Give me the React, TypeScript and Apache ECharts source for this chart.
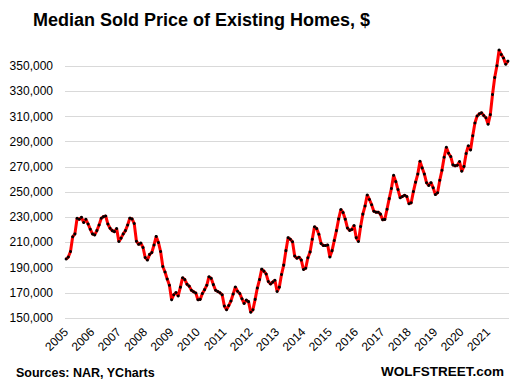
import { useEffect, useRef } from "react";
import * as echarts from "echarts";

const TITLE = "Median Sold Price of Existing Homes, $";
const SOURCE = "Sources: NAR, YCharts";
const BRAND = "WOLFSTREET.com";

const years = [2005, 2006, 2007, 2008, 2009, 2010, 2011, 2012, 2013, 2014, 2015, 2016, 2017, 2018, 2019, 2020, 2021];

// Monthly median sold price, $ (Jan..Dec)
const p2005 = [196800, 198400, 202800, 214500, 216800, 229200, 228400, 230000, 225800, 228400, 224700, 220500];
const p2006 = [216800, 216000, 219400, 223900, 229200, 230500, 231000, 224700, 221300, 219400, 218600, 221000];
const p2007 = [210700, 213400, 216800, 219400, 223900, 229300, 228700, 225000, 211000, 208500, 209500, 206000];
const p2008 = [198000, 196000, 200500, 202000, 208000, 214800, 210000, 202800, 190900, 186500, 180900, 176000];
const p2009 = [164500, 168500, 170300, 167500, 174500, 182000, 180500, 176800, 175300, 172000, 170800, 169800];
const p2010 = [164500, 164800, 169500, 172500, 176000, 182800, 181500, 176500, 172000, 171000, 170000, 168500];
const p2011 = [159500, 156500, 159900, 163500, 169000, 174600, 171200, 169500, 165300, 161500, 164200, 163000];
const p2012 = [154600, 156500, 164800, 173800, 180500, 188800, 187200, 185000, 179000, 177000, 178500, 180000];
const p2013 = [171000, 174500, 184500, 192000, 203500, 213800, 212500, 210500, 199200, 197500, 198300, 196000];
const p2014 = [188500, 189500, 197800, 202500, 212500, 222500, 221000, 216500, 209200, 207600, 207500, 208000];
const p2015 = [198500, 203500, 211500, 219400, 228700, 236200, 233800, 228500, 221500, 219600, 220300, 223500];
const p2016 = [213800, 210800, 222700, 232500, 238900, 247700, 244100, 240000, 234800, 234000, 234000, 232500];
const p2017 = [228100, 228300, 236400, 244800, 252800, 263300, 258300, 252000, 245500, 246500, 247500, 246500];
const p2018 = [240800, 241500, 250400, 257900, 264300, 274500, 269200, 264300, 257400, 255300, 257500, 253500];
const p2019 = [248000, 249500, 259400, 267300, 277700, 285600, 280800, 278200, 271600, 270900, 271300, 274300];
const p2020 = [266500, 270400, 280700, 286800, 283500, 294800, 304900, 310400, 312100, 313000, 310800, 309000];
const p2021 = [303900, 311500, 327500, 341000, 350300, 362800, 359200, 356500, 351500, 354000];

const yearly = [p2005, p2006, p2007, p2008, p2009, p2010, p2011, p2012, p2013, p2014, p2015, p2016, p2017, p2018, p2019, p2020, p2021];

const Y_MIN = 150000;
const Y_MAX = 370000;
const Y_STEP = 20000;

const FONT = '"Liberation Sans", Arial, sans-serif';

export default function App() {
  const ref = useRef<HTMLDivElement>(null);

  useEffect(() => {
    if (!ref.current) return;
    const chart = echarts.init(ref.current, null, { renderer: "svg" });

    const categories: string[] = [];
    const values: number[] = [];
    yearly.forEach((arr, yi) => {
      arr.forEach((v, mi) => {
        categories.push(`${years[yi]}-${String(mi + 1).padStart(2, "0")}`);
        values.push(v);
      });
    });

    chart.setOption({
      animation: false,
      backgroundColor: "#ffffff",
      textStyle: { fontFamily: FONT },
      grid: { left: 65, right: 6, top: 41, bottom: 71, containLabel: false },
      graphic: [
        {
          type: "text",
          left: 33,
          top: 11,
          style: { text: TITLE, font: `bold 18px ${FONT}`, fill: "#000000" },
        },
        {
          type: "text",
          left: 16,
          top: 366,
          style: { text: SOURCE, font: `bold 12.5px ${FONT}`, fill: "#000000" },
        },
        {
          type: "text",
          right: 11,
          top: 364,
          style: { text: BRAND, font: `bold 13.5px ${FONT}`, fill: "#000000" },
        },
      ],
      xAxis: {
        type: "category",
        data: categories,
        boundaryGap: true,
        axisLine: { show: false },
        axisTick: { show: false },
        splitLine: { show: false },
        axisLabel: {
          interval: (idx: number) => idx % 12 === 0,
          formatter: (v: string) => v.slice(0, 4),
          rotate: 45,
          margin: 12,
          fontSize: 12,
          color: "#000000",
          fontFamily: FONT,
        },
      },
      yAxis: {
        type: "value",
        min: Y_MIN,
        max: Y_MAX,
        interval: Y_STEP,
        axisLine: { show: false },
        axisTick: { show: false },
        axisLabel: {
          margin: 12,
          fontSize: 12,
          color: "#000000",
          fontFamily: FONT,
          showMaxLabel: false,
          formatter: (v: number) => v.toLocaleString("en-US"),
        },
        splitLine: {
          show: true,
          showMaxLine: false,
          lineStyle: { color: "#d9d9d9", width: 1 },
        },
      },
      series: [
        {
          type: "line",
          data: values,
          showAllSymbol: true,
          symbol: "circle",
          symbolSize: 3,
          itemStyle: { color: "#000000", borderWidth: 0 },
          lineStyle: { color: "#ff0000", width: 3 },
          smooth: false,
        },
      ],
    });

    return () => chart.dispose();
  }, []);

  return (
    <div
      ref={ref}
      style={{ position: "fixed", left: 0, top: 0, width: 515, height: 389, background: "#fff" }}
    />
  );
}
